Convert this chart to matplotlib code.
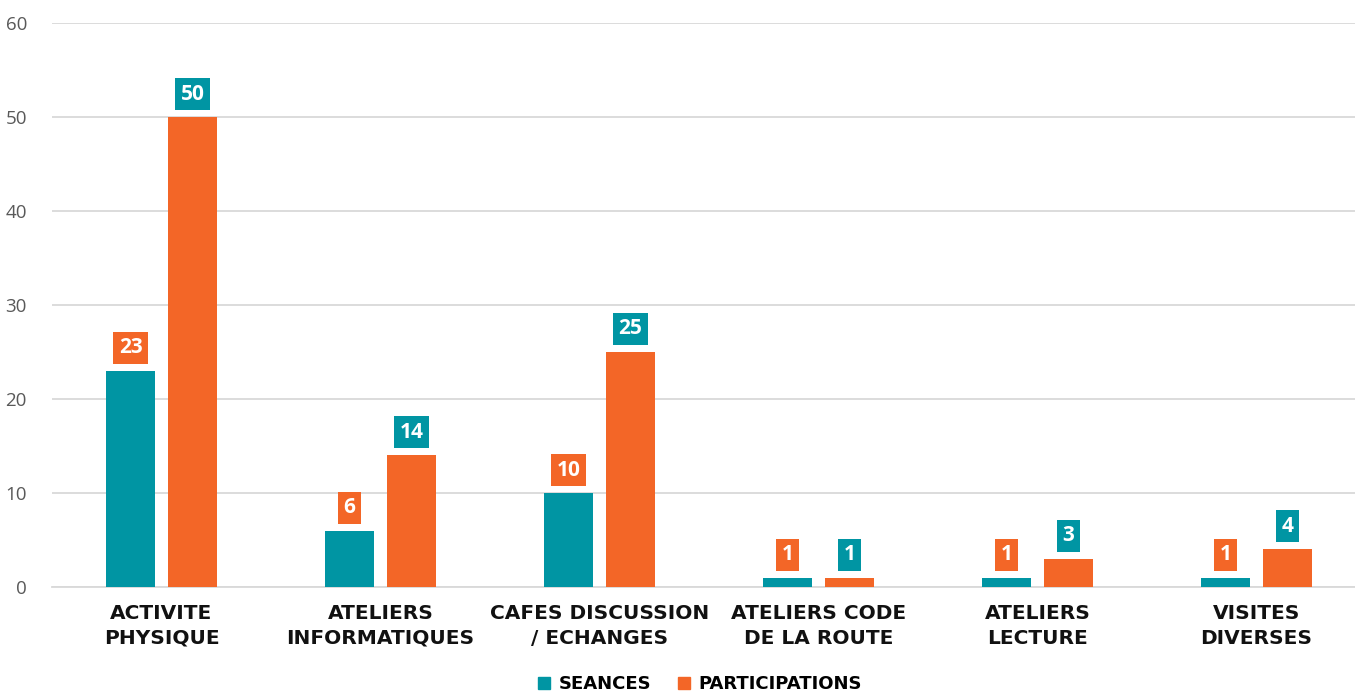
import matplotlib.pyplot as plt
import numpy as np
from matplotlib.lines import Line2D

# data
categories = ["ACTIVITE\nPHYSIQUE", "ATELIERS\nINFORMATIQUES", "CAFES DISCUSSION\n/ ECHANGES",
              "ATELIERS CODE\nDE LA ROUTE", "ATELIERS\nLECTURE", "VISITES\nDIVERSES"]
seances = [23, 6, 10, 1, 1, 1]
participations = [50, 14, 25, 1, 3, 4]
series_names = ["SEANCES", "PARTICIPATIONS"]

teal = "#0095A3"
orange = "#F36627"

fig = plt.figure(figsize=(13.55, 6.93), dpi=100)
ax = fig.add_axes([52 / 1355, 106 / 693, 1 - 52 / 1355, (587 - 23) / 693])

x = np.arange(len(categories))
w = 0.224
off = 0.1416
b1 = ax.bar(x - off, seances, w, color=teal, zorder=3)
b2 = ax.bar(x + off, participations, w, color=orange, zorder=3)

# value labels in boxes of the other colour
for bars, vals, box in [(b1, seances, orange), (b2, participations, teal)]:
    for r, v in zip(bars, vals):
        ax.annotate(str(v), (r.get_x() + r.get_width() / 2, v), xytext=(0, 9),
                    textcoords="offset points", ha="center", va="bottom",
                    fontsize=15, fontweight="bold", color="white", family="Open Sans",
                    bbox=dict(boxstyle="square,pad=0.26", fc=box, ec="none"), zorder=4)

ax.set_ylim(0, 60)
ax.set_xlim(-0.5, 5.45)
ax.set_yticks(range(0, 61, 10))
ax.grid(axis="y", color="#D9D9D9", linewidth=1.3, zorder=0)
for s in ["top", "right", "left"]:
    ax.spines[s].set_visible(False)
ax.spines["bottom"].set_color("#D9D9D9")
ax.spines["bottom"].set_linewidth(1.3)
ax.tick_params(axis="y", length=0, pad=18, labelsize=13.5, labelcolor="#595959")
ax.tick_params(axis="x", length=0, pad=12)
for t in ax.get_yticklabels():
    t.set_family("Open Sans")
ax.set_xticks(x)
ax.set_xticklabels(categories, fontsize=14.5, fontweight="bold", family="DejaVu Sans",
                   linespacing=1.4, color="#111111")

handles = [Line2D([], [], marker="s", linestyle="none", markersize=8.5, color=c)
           for c in (teal, orange)]
leg = fig.legend(handles, series_names, loc="lower center", bbox_to_anchor=(0.512, -0.024),
                 ncol=2, frameon=False, handletextpad=-0.2, columnspacing=0.8,
                 prop=dict(size=13, weight="bold", family="DejaVu Sans"))

fig.savefig("out.png", dpi=100)
